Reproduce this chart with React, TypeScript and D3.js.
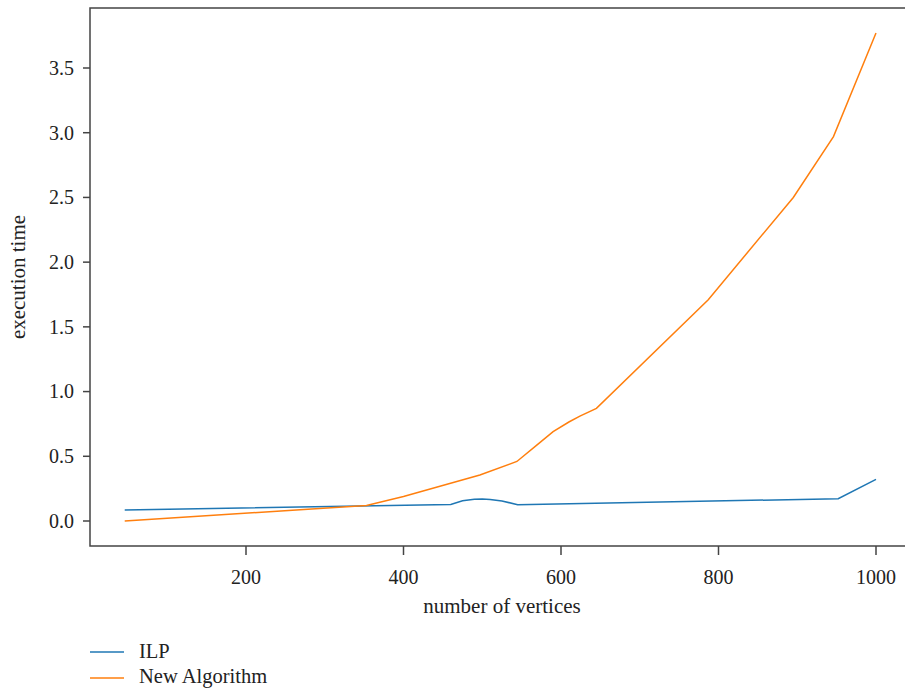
import React from "react";
import * as d3 from "d3";

const ilpX = [46, 460, 475, 490, 500, 510, 525, 545, 952, 1000];
const ilpY = [0.085, 0.128, 0.157, 0.168, 0.17, 0.167, 0.155, 0.126, 0.172, 0.322];
const newX = [46, 353, 400, 497, 544, 570, 590, 610, 624, 645, 787, 895, 946, 1000];
const newY = [0.0, 0.12, 0.19, 0.355, 0.46, 0.59, 0.69, 0.765, 0.81, 0.87, 1.71, 2.5, 2.97, 3.77];
const xTicks = [200, 400, 600, 800, 1000];
const yTicks = [0.0, 0.5, 1.0, 1.5, 2.0, 2.5, 3.0, 3.5];
const seriesNames = ["ILP", "New Algorithm"];
const colors = ["#1f77b4", "#ff7f0e"];

export default function App() {
  const W = 905, H = 690;
  const left = 90, right = 910, top = 8, bottom = 546;
  const x = d3.scaleLinear().domain([0, 1000]).range([88.5, 876]);
  const y = d3.scaleLinear().domain([0, 3.5]).range([521, 68]);
  const line = d3.line<[number, number]>().x(d => x(d[0])).y(d => y(d[1]));
  const series = [
    ilpX.map((v, i) => [v, ilpY[i]] as [number, number]),
    newX.map((v, i) => [v, newY[i]] as [number, number]),
  ];
  const font = "'Liberation Serif', 'Times New Roman', serif";
  const axisColor = "#444";
  return (
    <svg width={W} height={H} style={{ position: "absolute", left: 0, top: 0, background: "#fff" }} fontFamily={font}>
      <rect x={0} y={0} width={W} height={H} fill="#fff" />
      <path d={`M${right},${top}H${left}V${bottom}H${right}`} fill="none" stroke={axisColor} strokeWidth={1.5} />
      {yTicks.map(t => (
        <g key={t}>
          <line x1={left - 7} x2={left} y1={y(t)} y2={y(t)} stroke={axisColor} strokeWidth={1.5} />
          <text x={left - 16} y={y(t)} dy="0.34em" textAnchor="end" fontSize={20} fill="#222">{t.toFixed(1)}</text>
        </g>
      ))}
      {xTicks.map(t => (
        <g key={t}>
          <line x1={x(t)} x2={x(t)} y1={bottom} y2={bottom + 9} stroke={axisColor} strokeWidth={1.5} />
          <text x={x(t)} y={584} textAnchor="middle" fontSize={20} fill="#222">{t}</text>
        </g>
      ))}
      {series.map((s, i) => (
        <path key={i} d={line(s) || ""} fill="none" stroke={colors[i]} strokeWidth={1.5} />
      ))}
      <text x={502} y={613} textAnchor="middle" fontSize={21} fill="#222">number of vertices</text>
      <text transform={`translate(25,277) rotate(-90)`} textAnchor="middle" fontSize={21} fill="#222">execution time</text>
      {seriesNames.map((n, i) => (
        <g key={n}>
          <line x1={90} x2={124} y1={652 + i * 26} y2={652 + i * 26} stroke={colors[i]} strokeWidth={1.5} />
          <text x={139} y={658 + i * 25} fontSize={20.5} fill="#222">{n}</text>
        </g>
      ))}
    </svg>
  );
}
